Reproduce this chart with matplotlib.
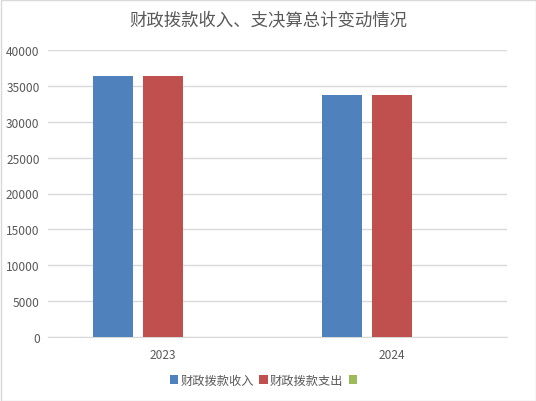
import matplotlib
matplotlib.use('Agg')
from matplotlib import pyplot as plt
from matplotlib.patches import Rectangle
import numpy as np

plt.rcParams['font.family'] = ['Noto Sans CJK SC', 'DejaVu Sans']

years = ['2023', '2024']
income = [36420, 33660]
spending = [36420, 33660]
third = [0, 0]
series_names = ['财政拨款收入', '财政拨款支出', ' ']
colors = ['#4F81BD', '#C0504D', '#9BBB59']

fig = plt.figure(figsize=(5.36, 4.02), dpi=100)
ax = fig.add_axes([48 / 536, 1 - 338 / 402, 459 / 536, 287 / 402])

x = np.arange(len(years)) + 0.5
slot = 50 / 229.5
width = slot * 0.8
for i, (vals, name, c) in enumerate(zip([income, spending, third], series_names, colors)):
    ax.bar(x + (i - 1) * slot, vals, width, color=c, label=name, zorder=3)

ax.set_xlim(0, 2)
ax.set_ylim(0, 40000)
ax.set_yticks(np.arange(0, 40001, 5000))
ax.set_xticks(x)
ax.set_xticklabels(years)
ax.grid(axis='y', color='#D9D9D9', linewidth=1, zorder=0)
for s in ['top', 'right', 'left']:
    ax.spines[s].set_visible(False)
ax.spines['bottom'].set_color('#D9D9D9')
ax.tick_params(length=0, labelsize=8.6, colors='#595959', pad=8)
ax.tick_params(axis='y', pad=6)

fig.suptitle('财政拨款收入、支决算总计变动情况', y=1 - 21 / 402, va='center',
             fontsize=12.5, color='#595959')

leg = fig.legend(loc='center', bbox_to_anchor=(266 / 536, 1 - 381 / 402), ncol=3,
                 frameon=False, fontsize=8.8, handlelength=0.7, handleheight=0.7,
                 handletextpad=0.2, columnspacing=0.4, labelcolor='#595959')

fig.patches.append(Rectangle((0.5 / 536, 0.5 / 402), 535 / 536, 401 / 402,
                             transform=fig.transFigure, fill=False,
                             edgecolor='#D9D9D9', linewidth=1))

fig.savefig('out.png', dpi=100)
